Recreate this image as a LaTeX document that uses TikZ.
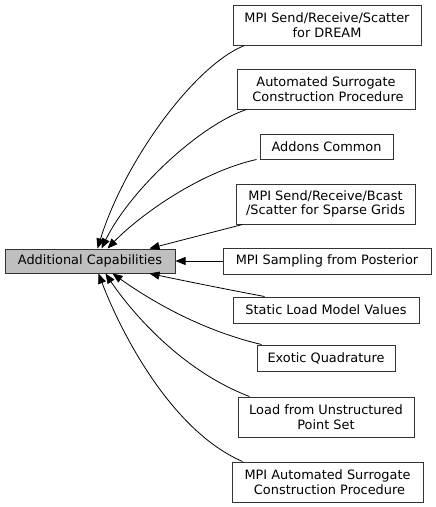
\documentclass[tikz,border=0pt]{standalone}
\usepackage{fontspec}
\setmainfont{DejaVu Sans}
\usetikzlibrary{arrows.meta}
\begin{document}
\begin{tikzpicture}[x=1pt,y=-1pt,
  box/.style={draw=black!80, line width=1pt, fill=white, inner sep=0pt, align=center,
     font=\fontsize{12.9}{14.5}\selectfont},
  edge/.style={line width=0.8pt, -{Triangle[length=10pt,width=8pt]}}]
\useasboundingbox (0,0) rectangle (436,507);
\node[box, fill=black!25, minimum width=170pt, minimum height=24pt] (main) at (90,261) {Additional Capabilities};
\node[box, minimum width=188pt, minimum height=40pt] (dream) at (327,25) {MPI Send/Receive/Scatter\\for DREAM};
\node[box, minimum width=178pt, minimum height=40pt] (asc) at (326,89) {Automated Surrogate\\\hspace*{4pt}Construction Procedure};
\node[box, minimum width=133pt, minimum height=25pt] (addons) at (326.5,146.5) {Addons Common};
\node[box, minimum width=179pt, minimum height=40pt] (sparse) at (325.5,204) {MPI Send/Receive/Bcast\\/Scatter for Sparse Grids};
\node[box, minimum width=208pt, minimum height=26pt] (post) at (327,261) {MPI Sampling from Posterior};
\node[box, minimum width=186pt, minimum height=26pt] (static) at (326,310) {Static Load Model Values};
\node[box, minimum width=138pt, minimum height=26pt] (exotic) at (326,358) {Exotic Quadrature};
\node[box, minimum width=176pt, minimum height=40pt] (load) at (326,417) {Load from Unstructured\\Point Set};
\node[box, minimum width=191pt, minimum height=40pt] (mpiasc) at (327.5,482) {MPI Automated Surrogate\\\hspace*{4pt}Construction Procedure};

\draw[edge] ([xshift=12pt]dream.south west) .. controls (195,65) and (125,160) .. ([xshift=93pt]main.north west);
\draw[edge] ([xshift=10pt]asc.south west) .. controls (200,125) and (130,190) .. ([xshift=97pt]main.north west);
\draw[edge] ([xshift=-3pt]addons.south west) .. controls (200,172) and (140,215) .. ([xshift=103pt]main.north west);
\draw[edge] ([xshift=7pt]sparse.south west) -- ([xshift=145pt]main.north west);
\draw[edge] (post.west) -- (main.east);
\draw[edge] ([xshift=32pt]static.north west) .. controls (230,290) and (190,282) .. ([xshift=145pt]main.south west);
\draw[edge] ([xshift=5pt]exotic.north west) .. controls (200,330) and (150,300) .. ([xshift=108pt]main.south west);
\draw[edge] ([xshift=12pt]load.north west) .. controls (180,370) and (130,310) .. ([xshift=101pt]main.south west);
\draw[edge] ([xshift=11pt]mpiasc.north west) .. controls (170,430) and (120,330) .. ([xshift=94pt]main.south west);
\end{tikzpicture}
\end{document}
